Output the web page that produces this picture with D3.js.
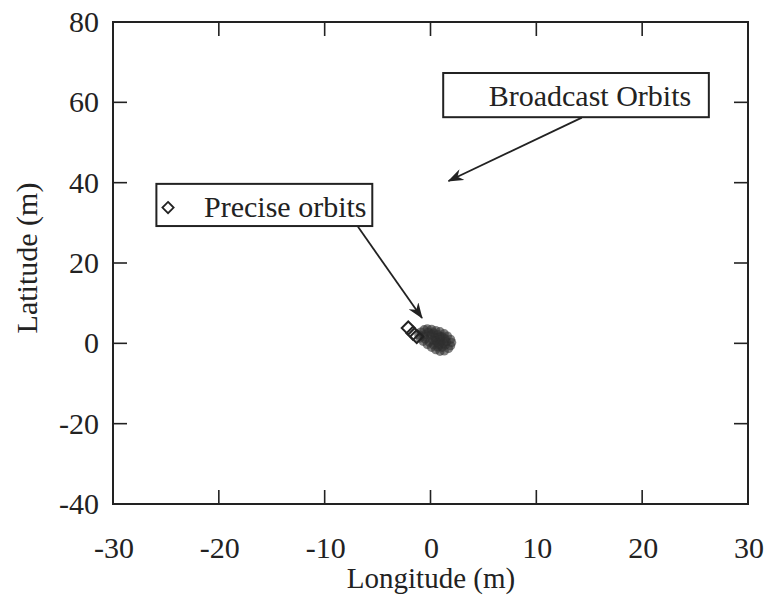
<!DOCTYPE html>
<html><head><meta charset="utf-8">
<script src="https://cdn.jsdelivr.net/npm/d3@7"></script>
<style>body{margin:0;background:#fff}text{font-family:"Liberation Serif","Times New Roman",serif;fill:#222}</style>
</head><body><svg id="c" width="769" height="597"></svg>
<script>
const xTicks=[-30,-20,-10,0,10,20,30];
const yTicks=[-40,-20,0,20,40,60,80];
const broadcastLon=[-0.9,-0.6,-0.3,0.1,0.5,0.9,1.3,1.6,1.9,2.0,1.9,1.7,1.3,0.9,0.5,0.1,-0.3,-0.7,-1.0,-1.1,
  -0.5,-0.2,0.3,0.7,1.1,1.4,1.5,1.4,1.1,0.7,0.3,-0.1,-0.5,-0.6,0.0,0.4,0.8,1.0,0.6,0.2,0.5,0.9,0.1,1.2,0.8];
const broadcastLat=[2.8,3.4,3.6,3.5,3.2,2.9,2.4,1.8,1.0,0.2,-0.6,-1.3,-1.9,-2.0,-1.6,-1.0,-0.3,0.5,1.3,2.1,
  2.2,2.8,2.6,2.2,1.7,1.1,0.4,-0.4,-1.0,-0.9,-0.4,0.3,1.1,1.7,1.8,1.4,1.0,0.3,0.2,0.8,0.7,1.6,2.3,0.0,-0.3];
const preciseLon=[-2.1,-1.65,-1.3];
const preciseLat=[3.8,2.5,1.7];
const legendLabels=["Precise orbits","Broadcast Orbits"];
const xLabel="Longitude (m)", yLabel="Latitude (m)";

const svg=d3.select("#c");
const L=113,R=748,T=22,B=504;
const x=d3.scaleLinear().domain([-30,30]).range([L,R]);
const y=d3.scaleLinear().domain([-40,80]).range([B,T]);
const FS=30, col="#222";

const defs=svg.append("defs");
defs.append("marker").attr("id","ah").attr("markerUnits","userSpaceOnUse")
  .attr("viewBox","0 0 16 12").attr("refX",15).attr("refY",6)
  .attr("markerWidth",16).attr("markerHeight",12).attr("orient","auto")
  .append("path").attr("d","M0,0 L16,6 L0,12 L5,6 Z").attr("fill",col);

// ticks (inward, all four sides)
const tl=14;
const g=svg.append("g").attr("stroke",col).attr("stroke-width",1.6);
xTicks.forEach(v=>{
  g.append("line").attr("x1",x(v)).attr("x2",x(v)).attr("y1",B).attr("y2",B-tl);
  g.append("line").attr("x1",x(v)).attr("x2",x(v)).attr("y1",T).attr("y2",T+tl);
});
yTicks.forEach(v=>{
  g.append("line").attr("y1",y(v)).attr("y2",y(v)).attr("x1",L).attr("x2",L+tl);
  g.append("line").attr("y1",y(v)).attr("y2",y(v)).attr("x1",R).attr("x2",R-tl);
});
svg.append("rect").attr("x",L).attr("y",T).attr("width",R-L).attr("height",B-T)
  .attr("fill","none").attr("stroke",col).attr("stroke-width",2);

// tick labels
svg.append("g").selectAll("text").data(xTicks).join("text")
  .attr("x",d=>x(d)+1).attr("y",558).attr("text-anchor","middle").attr("font-size",FS).text(d=>d);
svg.append("g").selectAll("text").data(yTicks).join("text")
  .attr("x",99).attr("y",d=>y(d)+10).attr("text-anchor","end").attr("font-size",FS).text(d=>d);

// axis labels
svg.append("text").attr("x",431).attr("y",588).attr("text-anchor","middle").attr("font-size",29).text(xLabel);
svg.append("text").attr("transform","translate(37,258) rotate(-90)").attr("text-anchor","middle").attr("font-size",FS).text(yLabel);

// data
const bd=broadcastLon.map((v,i)=>[v,broadcastLat[i]]);
svg.append("g").selectAll("circle").data(bd).join("circle")
  .attr("cx",d=>x(d[0])).attr("cy",d=>y(d[1])).attr("r",4.6)
  .attr("fill","#2e2e2e").attr("fill-opacity",0.6);
const pd=preciseLon.map((v,i)=>[v,preciseLat[i]]);
const dia=d3.symbol().type(d3.symbolDiamond2).size(110);
svg.append("g").selectAll("path").data(pd).join("path")
  .attr("transform",d=>`translate(${x(d[0])},${y(d[1])})`)
  .attr("d",dia).attr("fill","none").attr("stroke",col).attr("stroke-width",2);

// legend boxes (data coords)
function box(x0,x1,y0,y1){
  svg.append("rect").attr("x",x(x0)).attr("y",y(y0)).attr("width",x(x1)-x(x0)).attr("height",y(y1)-y(y0))
    .attr("fill","#fff").attr("stroke",col).attr("stroke-width",2);
}
box(-25.9,-5.5,39.7,29.2);
svg.append("path").attr("transform",`translate(${x(-24.8)},${y(33.8)})`)
  .attr("d",d3.symbol().type(d3.symbolDiamond2).size(80)).attr("fill","none").attr("stroke",col).attr("stroke-width",1.8);
svg.append("text").attr("x",x(-21.4)).attr("y",y(31.5)).attr("font-size",FS).text(legendLabels[0]);
box(1.2,26.3,67.3,56.3);
svg.append("text").attr("x",x(5.5)).attr("y",y(59.2)).attr("font-size",FS).text(legendLabels[1]);

// arrows
function arrow(a,b,c,d){
  svg.append("line").attr("x1",x(a)).attr("y1",y(b)).attr("x2",x(c)).attr("y2",y(d))
    .attr("stroke",col).attr("stroke-width",1.8).attr("marker-end","url(#ah)");
}
arrow(14.3,56.2,1.7,40.4);
arrow(-6.85,29.0,-0.8,6.3);
</script></body></html>
